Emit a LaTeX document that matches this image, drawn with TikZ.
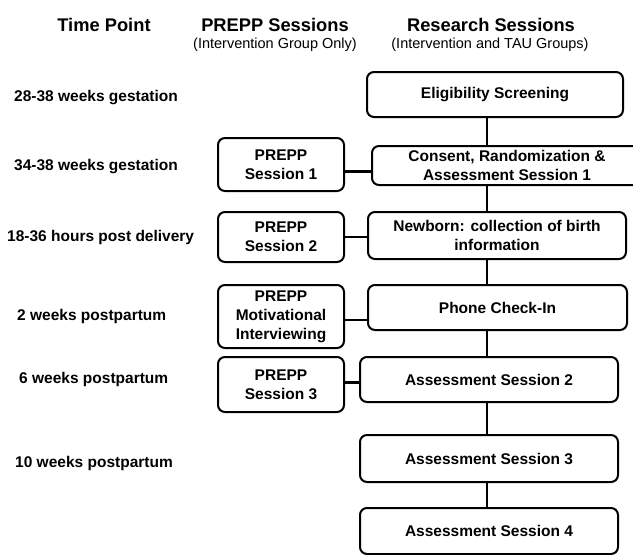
\documentclass[tikz,border=0pt]{standalone}
\usepackage{fontspec}
\setmainfont{Liberation Sans}
\usepackage{tikz}

\tikzset{
	session/.style={draw=black, line width=2pt, rounded corners=7pt, fill=white, align=center, inner sep=0pt, font=\fontsize{15.5}{19}\selectfont\bfseries},
	tpoint/.style={anchor=base west, inner sep=0pt, font=\fontsize{15.5}{19}\selectfont\bfseries},
	head/.style={anchor=base, inner sep=0pt, font=\fontsize{18.3}{22}\selectfont\bfseries},
	subhead/.style={anchor=base, inner sep=0pt, font=\fontsize{14.5}{17}\selectfont},
	link/.style={line width=2.2pt},
}

\begin{document}
\begin{tikzpicture}[x=1pt, y=-1pt]

	\clip (0,0) rectangle (633,555);

	% column heads
	\node[head] (hTime) at (104,31) {Time Point};
	\node[head] (hPrepp) at (275,31) {PREPP Sessions};
	\node[subhead] (sPrepp) at (275,48) {(Intervention Group Only)};
	\node[head] (hRes) at (491,31) {Research Sessions};
	\node[subhead] (sRes) at (490,48) {(Intervention and TAU Groups)};

	% time points
	\node[tpoint] (t1) at (14,101) {28-38 weeks gestation};
	\node[tpoint] (t2) at (14,170.5) {34-38 weeks gestation};
	\node[tpoint] (t3) at (7,241.5) {18-36 hours post delivery};
	\node[tpoint] (t4) at (17,320.5) {2 weeks postpartum};
	\node[tpoint] (t5) at (19,383.5) {6 weeks postpartum};
	\node[tpoint] (t6) at (15,467.5) {10 weeks postpartum};

	% research sessions
	\coordinate (spine) at (487,0);
	\node[session, minimum width=256, minimum height=45] (elig) at (495,94.5) {Eligibility Screening};
	\node[session, minimum width=270, minimum height=39] (consent) at (507,165.5) {Consent, Randomization \&\\Assessment Session 1};
	\node[session, minimum width=258, minimum height=47] (newborn) at (497,235.5) {Newborn: collection of birth\\information};
	\node[session, minimum width=259, minimum height=45] (phone) at (497.5,307.5) {Phone Check-In};
	\node[session, minimum width=258, minimum height=45] (assess2) at (489,379.5) {Assessment Session 2};
	\node[session, minimum width=258, minimum height=47] (assess3) at (489,458.5) {Assessment Session 3};
	\node[session, minimum width=258, minimum height=46] (assess4) at (489,531) {Assessment Session 4};

	% PREPP sessions
	\node[session, minimum width=126, minimum height=53] (prepp1) at (281,164.5) {PREPP\\Session 1};
	\node[session, minimum width=126, minimum height=50] (prepp2) at (281,237) {PREPP\\Session 2};
	\node[session, minimum width=126, minimum height=63] (preppMI) at (281,316.5) {PREPP\\Motivational\\Interviewing};
	\node[session, minimum width=126, minimum height=55] (prepp3) at (281,384.5) {PREPP\\Session 3};

	\foreach \a/\b in {elig/consent, consent/newborn, newborn/phone, phone/assess2, assess2/assess3, assess3/assess4}{
		\draw[link] (\a.south -| spine) -- (\b.north -| spine);
	}

	\draw[link] ([yshift=-7pt]prepp1.east) -- ([yshift=-7pt]prepp1.east -| consent.west);
	\draw[link] (prepp2.east) -- (prepp2.east -| newborn.west);
	\draw[link] ([yshift=-3.5pt]preppMI.east) -- ([yshift=-3.5pt]preppMI.east -| phone.west);
	\draw[link] ([yshift=2pt]prepp3.east) -- ([yshift=2pt]prepp3.east -| assess2.west);

\end{tikzpicture}
\end{document}
